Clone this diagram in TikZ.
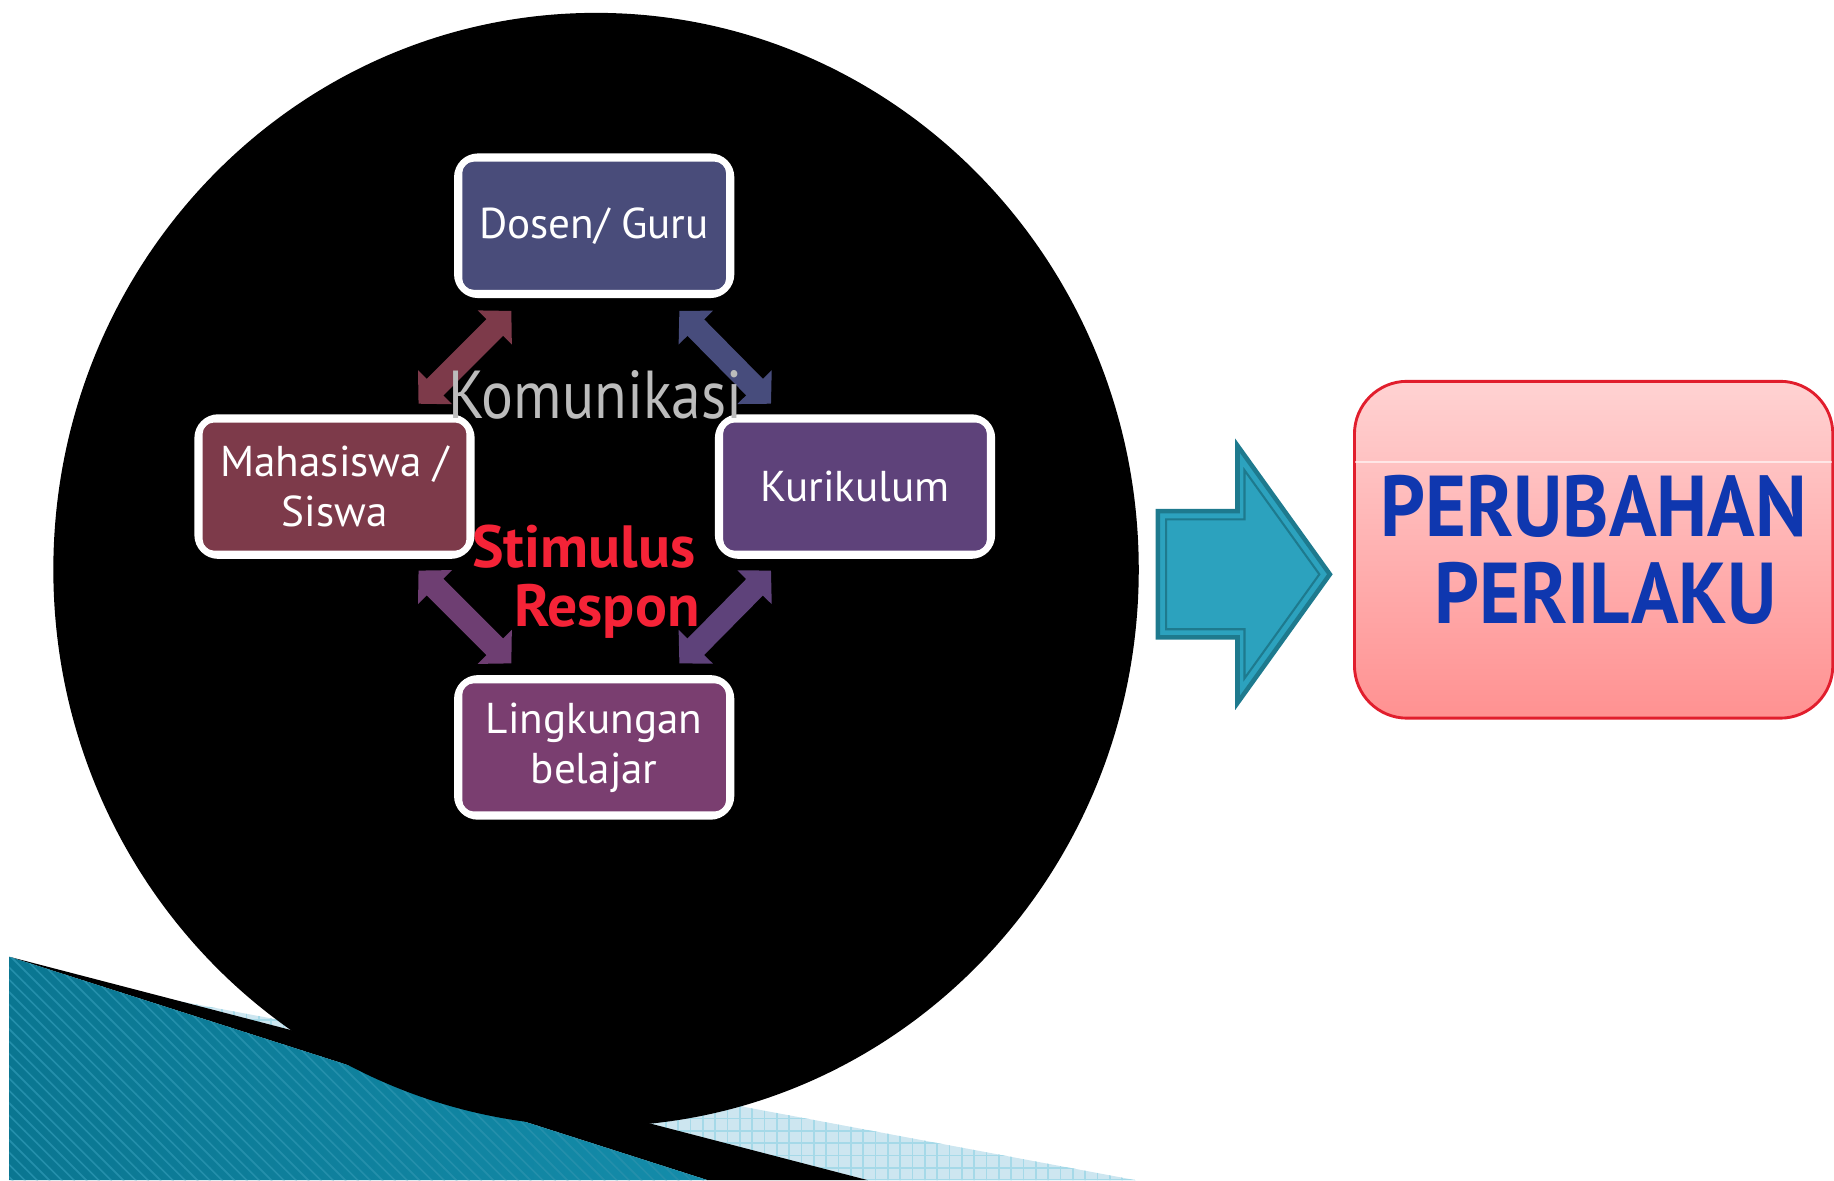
\documentclass[tikz,border=0pt]{standalone}
\usepackage{fontspec}
\setmainfont{PT Sans}
\newfontfamily\bigfont[FakeStretch=0.91]{PT Sans}
\newfontfamily\komfont[FakeStretch=0.88]{PT Sans}
\usetikzlibrary{arrows.meta,calc,patterns}

\definecolor{dosenblue}{RGB}{73,76,122}
\definecolor{mhsred}{RGB}{125,58,74}
\definecolor{kurpurple}{RGB}{94,66,122}
\definecolor{lingplum}{RGB}{122,62,112}
\definecolor{linkblue}{RGB}{71,76,124}
\definecolor{linkplum}{RGB}{110,62,114}
\definecolor{bigteal}{RGB}{44,162,190}
\definecolor{tealedge}{RGB}{30,122,142}
\definecolor{pinktop}{RGB}{255,210,210}
\definecolor{pinkbot}{RGB}{255,145,145}
\definecolor{boxred}{RGB}{225,30,45}
\definecolor{textblue}{RGB}{15,55,175}
\definecolor{stimred}{RGB}{245,35,55}
\definecolor{silver}{RGB}{188,188,188}
\definecolor{banddark}{RGB}{10,118,145}
\definecolor{bandmid}{RGB}{75,180,210}
\definecolor{bandend}{RGB}{20,140,170}
\definecolor{bandlight}{RGB}{205,230,240}

\begin{document}
\begin{tikzpicture}[
    x=0.1mm, y=-0.1mm,
    box/.style={draw=white, line width=1.6pt, rounded corners=5pt, fill=#1, text=white, align=center, minimum width=23.4mm, minimum height=11.8mm, inner sep=2pt, font=\fontsize{10.5}{12.2}\selectfont},
    link/.style={draw=#1, line width=5.7pt, {Triangle[width=11.4pt,length=5.7pt]}-{Triangle[width=11.4pt,length=5.7pt]}},
    word/.style={font=\bfseries\fontsize{14.5}{15}\selectfont, text=stimred},
    big/.style={rectangle, rounded corners=4.5mm, draw=boxred, line width=0.7pt, top color=pinktop, bottom color=pinkbot, minimum width=40.9mm, minimum height=28.8mm, align=center, text=textblue, font=\bigfont\bfseries\fontsize{21}{21.3}\selectfont}
]
\useasboundingbox (0,0) rectangle (1568,1009);

% bands at the bottom left
\path[fill=bandlight, postaction={pattern=grid, pattern color=bandmid!50}] (100,846) -- (971,1009) -- (742,1009) -- cycle;
\fill[black] (8,818) -- (742,1009) -- (605,1009) -- cycle;
\path[left color=banddark, middle color=bandmid, right color=bandend, postaction={pattern=north west lines, pattern color=banddark!60!bandmid}] (8,818) -- (605,1009) -- (8,1009) -- cycle;

% black disc
\fill[black] (509.6,487) ellipse [x radius=464, y radius=476];

% boxes
\node[box=dosenblue] (dosen) at (508,193) {Dosen/ Guru};
\node[box=mhsred] (mhs) at (286,416) {Mahasiswa /\\Siswa};
\node[box=kurpurple] (kur) at (731,416) {Kurikulum};
\node[box=lingplum] (ling) at (508,639) {Lingkungan\\belajar};
\foreach \n in {dosen,mhs,kur,ling}
  \draw[white, line width=0.6pt, rounded corners=3pt] ($(\n.north west)+(6,6)$) rectangle ($(\n.south east)+(-6,-6)$);

% links
\draw[link=mhsred] ($(mhs.north east)+(-48,-9)$) -- ($(dosen.south west)+(49,11)$);
\draw[link=linkblue] ($(dosen.south east)+(-47,11)$) -- ($(kur.north west)+(48,-9)$);
\draw[link=linkplum] ($(mhs.south east)+(-48,10)$) -- ($(ling.north west)+(49,-10)$);
\draw[link=kurpurple] ($(kur.south west)+(48,10)$) -- ($(ling.north east)+(-47,-10)$);

% labels
\node[font=\komfont\fontsize{16.5}{17}\selectfont, text=silver] (komunikasi) at (509,338) {Komunikasi};
\node[word] (stimulus) at (499,467) {Stimulus};
\node[word] (respon) at (519,523) {Respon};

% big arrow
\draw[fill=bigteal, draw=tealedge, line width=1.1pt] (990,437) -- (1058,437) -- (1058,381) -- (1137,491) -- (1058,601) -- (1058,545) -- (990,545) -- cycle;
\draw[tealedge, line width=0.5pt] (997,444) -- (1064,444) -- (1064,402) -- (1128,491) -- (1064,580) -- (1064,538) -- (997,538) -- cycle;

% result
\node[big] (hasil) at (1362.5,470) {PERUBAHAN\\\hspace*{2mm}PERILAKU};
\draw[white, opacity=0.6, line width=0.3pt] ($(hasil.west)+(2,-75)$) -- ($(hasil.east)+(-2,-75)$);

\end{tikzpicture}
\end{document}
